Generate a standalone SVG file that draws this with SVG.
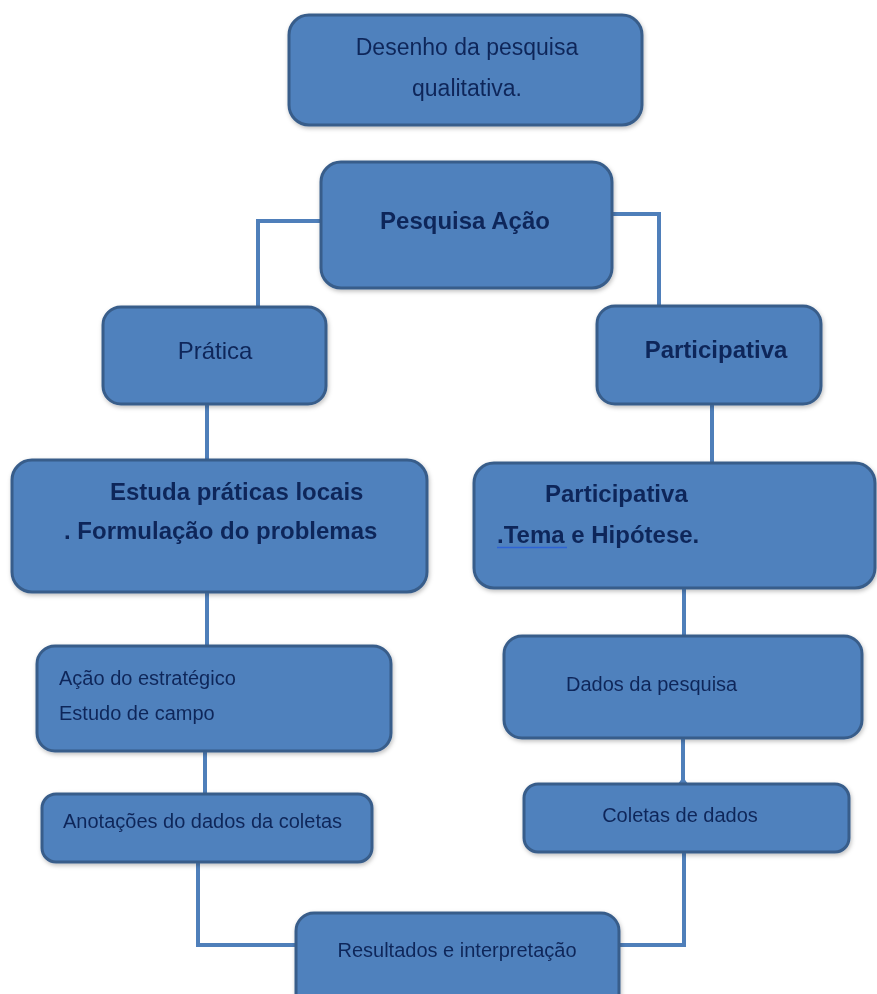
<svg xmlns="http://www.w3.org/2000/svg" width="877" height="994" viewBox="0 0 877 994">
<defs>
<style>
.box{fill:#4f81bd;stroke:#385d8a;stroke-width:3}
.conn{fill:none;stroke:#4f7fba;stroke-width:4;stroke-linejoin:miter}
.t{font-family:"Liberation Sans",Arial,sans-serif;fill:#10275a}
.b{font-weight:bold}
.big{font-size:24px}
.sm{font-size:20px}
</style>
<filter id="sh" x="-10%" y="-10%" width="120%" height="130%">
<feDropShadow dx="1" dy="2" stdDeviation="2" flood-color="#000" flood-opacity="0.25"/>
</filter>
</defs>
<rect width="877" height="994" fill="#ffffff"/>
<g id="connectors">
<polyline class="conn" points="322,221 258,221 258,308"/>
<polyline class="conn" points="611,214 659,214 659,307"/>
<line class="conn" x1="207" y1="404" x2="207" y2="461"/>
<line class="conn" x1="712" y1="404" x2="712" y2="464"/>
<line class="conn" x1="207" y1="592" x2="207" y2="647"/>
<line class="conn" x1="684" y1="588" x2="684" y2="637"/>
<line class="conn" x1="205" y1="751" x2="205" y2="795"/>
<polyline class="conn" points="683,738 683,783"/>
<path d="M678,784 L683,777 L688,784 Z" fill="#4f7fba"/>
<polyline class="conn" points="198,862 198,945 297,945"/>
<polyline class="conn" points="684,852 684,945 619,945"/>
</g>
<g id="n1" filter="url(#sh)">
<rect class="box" x="289" y="15" width="353" height="110" rx="20"/>
<text class="t" x="467" y="55" text-anchor="middle" font-size="23">Desenho da pesquisa</text>
<text class="t" x="467" y="96" text-anchor="middle" font-size="23">qualitativa.</text>
</g>
<g id="n2" filter="url(#sh)">
<rect class="box" x="321" y="162" width="291" height="126" rx="20"/>
<text class="t b big" x="465" y="229" text-anchor="middle">Pesquisa Ação</text>
</g>
<g id="n3" filter="url(#sh)">
<rect class="box" x="103" y="307" width="223" height="97" rx="18"/>
<text class="t big" x="215" y="359" text-anchor="middle">Prática</text>
</g>
<g id="n4" filter="url(#sh)">
<rect class="box" x="597" y="306" width="224" height="98" rx="18"/>
<text class="t b big" x="716" y="358" text-anchor="middle">Participativa</text>
</g>
<g id="n5" filter="url(#sh)">
<rect class="box" x="12" y="460" width="415" height="132" rx="20"/>
<text class="t b big" x="110" y="500">Estuda práticas locais</text>
<text class="t b big" x="64" y="539">. Formulação do problemas</text>
</g>
<g id="n6" filter="url(#sh)">
<rect class="box" x="474" y="463" width="401" height="125" rx="20"/>
<text class="t b big" x="545" y="502">Participativa</text>
<text class="t b big" x="497" y="543">.Tema e Hipótese.</text>
<line x1="497" y1="547.5" x2="567" y2="547.5" stroke="#2f63d6" stroke-width="1.5"/>
</g>
<g id="n7" filter="url(#sh)">
<rect class="box" x="37" y="646" width="354" height="105" rx="18"/>
<text class="t sm" x="59" y="685">Ação do estratégico</text>
<text class="t sm" x="59" y="720">Estudo de campo</text>
</g>
<g id="n8" filter="url(#sh)">
<rect class="box" x="504" y="636" width="358" height="102" rx="18"/>
<text class="t sm" x="566" y="691">Dados da pesquisa</text>
</g>
<g id="n9" filter="url(#sh)">
<rect class="box" x="42" y="794" width="330" height="68" rx="14"/>
<text class="t sm" x="63" y="828">Anotações do dados da coletas</text>
</g>
<g id="n10" filter="url(#sh)">
<rect class="box" x="524" y="784" width="325" height="68" rx="14"/>
<text class="t sm" x="680" y="822" text-anchor="middle">Coletas de dados</text>
</g>
<g id="n11" filter="url(#sh)">
<rect class="box" x="296" y="913" width="323" height="100" rx="18"/>
<text class="t sm" x="457" y="957" text-anchor="middle">Resultados e interpretação</text>
</g>
</svg>
